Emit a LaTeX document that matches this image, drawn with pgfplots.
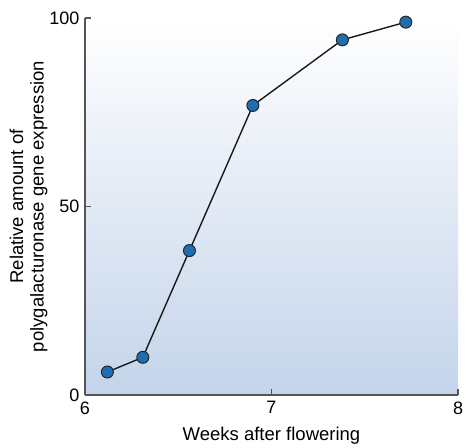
\documentclass[border=0pt]{standalone}
\usepackage{pgfplots}
\pgfplotsset{compat=1.18}
\usetikzlibrary{calc}
\usepackage{fontspec}
\setmainfont{Liberation Sans}
\definecolor{markblue}{HTML}{1F6EB0}
\definecolor{bgblue}{HTML}{C4D4EA}
\definecolor{bgmid}{HTML}{F0F4FA}
\definecolor{axgray}{HTML}{555555}
\begin{document}
\begin{tikzpicture}
\begin{axis}[
  name=ax,
  scale only axis,
  width=373pt, height=377pt,
  xmin=6, xmax=8, ymin=0, ymax=100,
  xtick={6,7,8}, ytick={0,50,100},
  axis lines*=left,
  axis line style={axgray, line width=1.4pt},
  tick style={axgray, line width=1.4pt},
  tick align=inside,
  major tick length=6pt,
  axis background/.style={top color=white, middle color=bgmid, bottom color=bgblue},
  font=\fontsize{18.5}{20.5}\selectfont,
  /pgf/number format/assume math mode=true,
  ticklabel style={font=\fontsize{18}{20}\selectfont},
  yticklabel style={xshift=-2pt},
  xticklabel style={yshift=-3pt},
  xlabel={Weeks after flowering},
  ylabel={Relative amount of\\polygalacturonase gene expression},
  ylabel style={align=center, yshift=-5pt},
  xlabel style={yshift=-6pt},
  clip=false,
]
\addplot[black!90, line width=1.4pt, mark=*, mark size=6pt,
  mark options={fill=markblue, draw=black!85, line width=1pt}]
  coordinates {(6.12,6.1) (6.31,10.0) (6.56,38.3) (6.90,76.8) (7.38,94.2) (7.72,98.9)};
\end{axis}
\pgfresetboundingbox
\path[use as bounding box] ($(ax.south west)+(-85pt,-52pt)$) rectangle ($(ax.north east)+(7pt,18pt)$);
\end{tikzpicture}
\end{document}
